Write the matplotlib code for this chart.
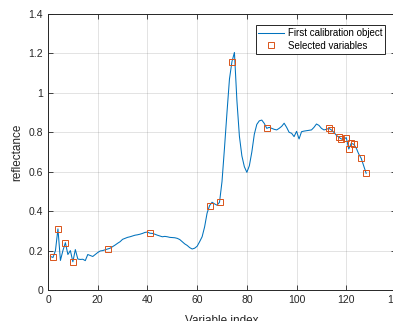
import numpy as np
import matplotlib
matplotlib.use("Agg")
import matplotlib.pyplot as plt

# spectrum of the first calibration object, variables 1..128
reflectance = [
    0.170, 0.165, 0.200, 0.310, 0.150, 0.200, 0.240, 0.180, 0.200, 0.143,
    0.205, 0.157, 0.155, 0.156, 0.149, 0.180, 0.175, 0.170, 0.180, 0.190,
    0.198, 0.200, 0.204, 0.208, 0.212, 0.220, 0.228, 0.237, 0.245, 0.257,
    0.262, 0.267, 0.270, 0.274, 0.278, 0.280, 0.283, 0.287, 0.292, 0.294,
    0.288, 0.287, 0.283, 0.278, 0.274, 0.270, 0.272, 0.270, 0.267, 0.266,
    0.265, 0.262, 0.256, 0.245, 0.234, 0.226, 0.215, 0.208, 0.212, 0.222,
    0.245, 0.270, 0.320, 0.390, 0.428, 0.445, 0.437, 0.430, 0.445, 0.550,
    0.720, 0.900, 1.070, 1.158, 1.205, 0.960, 0.780, 0.680, 0.625, 0.597,
    0.630, 0.700, 0.790, 0.840, 0.858, 0.862, 0.845, 0.820, 0.825, 0.820,
    0.815, 0.812, 0.820, 0.830, 0.846, 0.825, 0.800, 0.795, 0.778, 0.805,
    0.766, 0.803, 0.806, 0.808, 0.810, 0.812, 0.825, 0.842, 0.835, 0.820,
    0.812, 0.815, 0.820, 0.812, 0.800, 0.785, 0.775, 0.766, 0.765, 0.773,
    0.715, 0.744, 0.739, 0.720, 0.690, 0.668, 0.630, 0.592,
]
variable_index = np.arange(1, len(reflectance) + 1)

selected = [2, 4, 7, 10, 24, 41, 65, 69, 74, 88,
            113, 114, 117, 118, 120, 121, 122, 123, 126, 128]

xticks = [0, 20, 40, 60, 80, 100, 120, 140]
yticks = [0, 0.2, 0.4, 0.6, 0.8, 1.0, 1.2, 1.4]
yticklabels = ["0", "0.2", "0.4", "0.6", "0.8", "1", "1.2", "1.4"]

plt.rcParams.update({
    "font.family": ["Liberation Sans", "DejaVu Sans"],
    "xtick.direction": "in",
    "ytick.direction": "in",
})

axis_col = "#262626"
fig = plt.figure(figsize=(3.93, 3.21), dpi=100)
ax = fig.add_axes([48 / 393, 31 / 321, 348 / 393, 276 / 321])

refl = np.array(reflectance)
sel = np.array(selected)
ax.plot(variable_index, refl, color="#0072BD", linewidth=0.75,
        label="First calibration object")
ax.plot(sel, refl[sel - 1], linestyle="none", marker="s", markersize=4.2,
        markerfacecolor="none", markeredgecolor="#D95319", markeredgewidth=0.7,
        label="Selected variables")

ax.set_xlim(0, 140)
ax.set_ylim(0, 1.4)
ax.set_xticks(xticks)
ax.set_yticks(yticks)
ax.set_yticklabels(yticklabels)
ax.tick_params(labelsize=7.5, colors=axis_col, length=3.5, width=0.6,
               top=True, right=True, pad=3.5)
ax.grid(True, color=axis_col, alpha=0.15, linewidth=0.6)
for s in ax.spines.values():
    s.set_color(axis_col)
    s.set_linewidth(0.7)

ax.set_xlabel("Variable index", fontsize=8.5, color=axis_col, labelpad=7)
ax.set_ylabel("reflectance", fontsize=8.5, color=axis_col, labelpad=4)

leg = ax.legend(loc="upper right", bbox_to_anchor=(337 / 348, 1 - 11 / 276),
                fontsize=7, fancybox=False, framealpha=1,
                edgecolor=axis_col, borderpad=0.3, labelspacing=0.3,
                handlelength=2.6, handletextpad=0.4, borderaxespad=0)
leg.get_frame().set_linewidth(0.7)

fig.savefig("out.png", dpi=100)
